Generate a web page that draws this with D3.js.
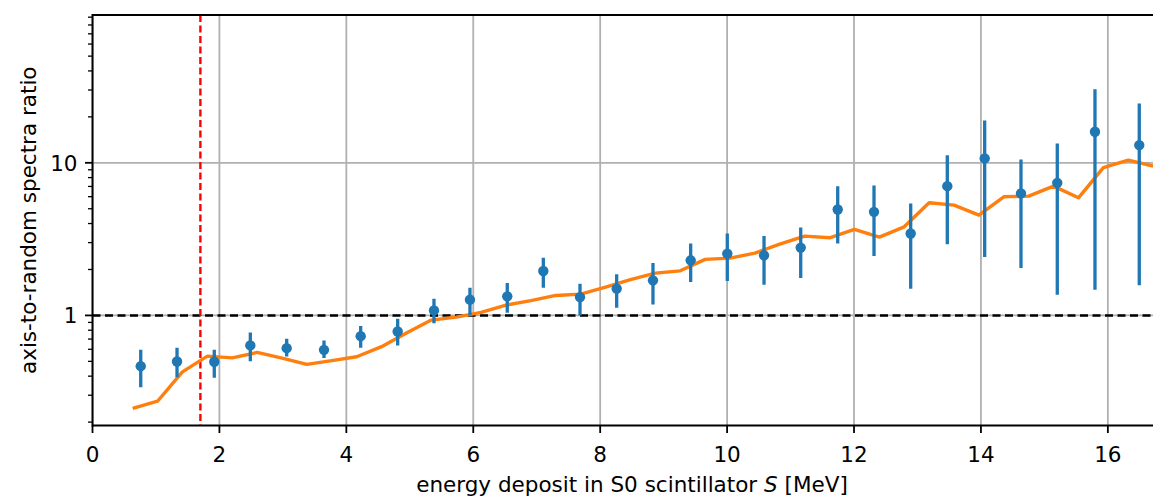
<!DOCTYPE html>
<html>
<head>
<meta charset="utf-8">
<script src="https://cdn.jsdelivr.net/npm/d3@7"></script>
<style>
  body { margin: 0; background: #fff; }
  text { font-family: "DejaVu Sans", sans-serif; fill: #000; }
</style>
</head>
<body>
<div id="chart"></div>
<script>
var w = 1153;
var h = 498;

// measured points with asymmetric error bars
var pointX = [0.760, 1.332, 1.919, 2.487, 3.060, 3.648, 4.226, 4.809, 5.381, 5.948,
              6.536, 7.104, 7.682, 8.260, 8.832, 9.426, 10.003, 10.582, 11.160, 11.743,
              12.315, 12.893, 13.470, 14.059, 14.631, 15.203, 15.797, 16.495];
var pointY = [0.465, 0.499, 0.497, 0.636, 0.610, 0.595, 0.731, 0.785, 1.078, 1.268,
              1.333, 1.954, 1.318, 1.497, 1.698, 2.297, 2.542, 2.477, 2.783, 4.94,
              4.77, 3.44, 7.03, 10.69, 6.30, 7.39, 15.98, 13.06];
var pointHi = [0.595, 0.614, 0.595, 0.773, 0.703, 0.685, 0.851, 0.951, 1.287, 1.52,
               1.63, 2.39, 1.615, 1.86, 2.205, 2.955, 3.44, 3.32, 3.77, 7.03,
               7.11, 5.41, 11.2, 18.9, 10.5, 13.4, 30.3, 24.5];
var pointLo = [0.338, 0.394, 0.390, 0.501, 0.538, 0.527, 0.614, 0.636, 0.890, 1.0,
               1.04, 1.52, 1.0, 1.124, 1.181, 1.654, 1.68, 1.59, 1.758, 2.96,
               2.45, 1.497, 2.93, 2.41, 2.045, 1.367, 1.475, 1.574];

// simulated ratio (orange line)
var lineX = [0.633, 1.025, 1.417, 1.810, 2.202, 2.594, 2.986, 3.378, 3.771, 4.163,
             4.555, 4.947, 5.339, 5.732, 6.124, 6.516, 6.908, 7.300, 7.693, 8.085,
             8.477, 8.869, 9.261, 9.654, 10.046, 10.438, 10.830, 11.222, 11.615, 12.007,
             12.399, 12.791, 13.183, 13.576, 13.968, 14.360, 14.752, 15.144, 15.537, 15.929,
             16.321, 16.713];
var lineY = [0.246, 0.274, 0.427, 0.541, 0.527, 0.572, 0.525, 0.478, 0.506, 0.536,
             0.624, 0.766, 0.932, 0.975, 1.046, 1.168, 1.250, 1.352, 1.379, 1.532,
             1.717, 1.893, 1.960, 2.328, 2.374, 2.560, 2.933, 3.309, 3.225, 3.661,
             3.260, 3.807, 5.470, 5.283, 4.543, 5.987, 6.050, 7.036, 5.897, 9.30,
             10.42, 9.51];

var xTicks = [0, 2, 4, 6, 8, 10, 12, 14, 16];
var yTicks = [1, 10];
var yMinor = [0.2, 0.3, 0.4, 0.5, 0.6, 0.7, 0.8, 0.9, 2, 3, 4, 5, 6, 7, 8, 9,
              20, 30, 40, 50, 60, 70, 80, 90];
var threshold = 1.7;

var plotLeft = 92.5, plotTop = 15, plotBottom = 425.5;
var fontSize = "21.5px";

var xScale = d3.scaleLinear()
    .domain([0, 17])
    .range([plotLeft, plotLeft + 17 * 63.46]);

var yScale = d3.scaleLog()
    .domain([0.19, 93])
    .range([plotBottom, plotTop]);

var svg = d3.select("#chart")
    .append("svg")
    .attr("width", w)
    .attr("height", h);

svg.append("clipPath").attr("id", "plotclip")
    .append("rect")
    .attr("x", plotLeft).attr("y", plotTop)
    .attr("width", w - plotLeft).attr("height", plotBottom - plotTop);

var g = svg.append("g").attr("clip-path", "url(#plotclip)");

// grid
g.selectAll(".vgrid")
    .data(xTicks)
    .enter()
    .append("line")
    .attr("x1", function(d) { return xScale(d); })
    .attr("x2", function(d) { return xScale(d); })
    .attr("y1", plotTop)
    .attr("y2", plotBottom)
    .attr("stroke", "#b0b0b0")
    .attr("stroke-width", 1.8);

g.selectAll(".hgrid")
    .data(yTicks)
    .enter()
    .append("line")
    .attr("x1", plotLeft)
    .attr("x2", w)
    .attr("y1", function(d) { return yScale(d); })
    .attr("y2", function(d) { return yScale(d); })
    .attr("stroke", "#b0b0b0")
    .attr("stroke-width", 1.8);

// ratio = 1 reference
g.append("line")
    .attr("x1", plotLeft)
    .attr("x2", w)
    .attr("y1", yScale(1))
    .attr("y2", yScale(1))
    .attr("stroke", "#000")
    .attr("stroke-width", 2.4)
    .attr("stroke-dasharray", "8,4.5");

// threshold
g.append("line")
    .attr("x1", xScale(threshold))
    .attr("x2", xScale(threshold))
    .attr("y1", plotTop)
    .attr("y2", plotBottom)
    .attr("stroke", "#ff0000")
    .attr("stroke-width", 2.4)
    .attr("stroke-dasharray", "7,3.5");

var line = d3.line()
    .x(function(d) { return xScale(d[0]); })
    .y(function(d) { return yScale(d[1]); });

g.append("path")
    .datum(d3.zip(lineX, lineY))
    .attr("d", line)
    .attr("fill", "none")
    .attr("stroke", "#ff7f0e")
    .attr("stroke-width", 3.4)
    .attr("stroke-linejoin", "round");

var pts = pointX.map(function(x, i) {
    return { x: x, y: pointY[i], hi: pointHi[i], lo: pointLo[i] };
});

g.selectAll(".err")
    .data(pts)
    .enter()
    .append("line")
    .attr("x1", function(d) { return xScale(d.x); })
    .attr("x2", function(d) { return xScale(d.x); })
    .attr("y1", function(d) { return yScale(d.hi); })
    .attr("y2", function(d) { return yScale(d.lo); })
    .attr("stroke", "#1f77b4")
    .attr("stroke-width", 3.3);

g.selectAll(".dot")
    .data(pts)
    .enter()
    .append("circle")
    .attr("cx", function(d) { return xScale(d.x); })
    .attr("cy", function(d) { return yScale(d.y); })
    .attr("r", 5.2)
    .attr("fill", "#1f77b4");

// spines
svg.append("line")
    .attr("x1", plotLeft).attr("x2", w)
    .attr("y1", plotTop).attr("y2", plotTop)
    .attr("stroke", "#000").attr("stroke-width", 2);
svg.append("line")
    .attr("x1", plotLeft).attr("x2", w)
    .attr("y1", plotBottom).attr("y2", plotBottom)
    .attr("stroke", "#000").attr("stroke-width", 2);
svg.append("line")
    .attr("x1", plotLeft).attr("x2", plotLeft)
    .attr("y1", plotTop - 1).attr("y2", plotBottom + 1)
    .attr("stroke", "#000").attr("stroke-width", 2);

// x ticks
svg.selectAll(".xtick")
    .data(xTicks)
    .enter()
    .append("line")
    .attr("x1", function(d) { return xScale(d); })
    .attr("x2", function(d) { return xScale(d); })
    .attr("y1", plotBottom)
    .attr("y2", plotBottom + 7.5)
    .attr("stroke", "#000")
    .attr("stroke-width", 1.8);

svg.selectAll(".xlab")
    .data(xTicks)
    .enter()
    .append("text")
    .attr("x", function(d) { return xScale(d); })
    .attr("y", 462)
    .attr("text-anchor", "middle")
    .style("font-size", fontSize)
    .text(function(d) { return d; });

// y ticks
svg.selectAll(".ytick")
    .data(yTicks)
    .enter()
    .append("line")
    .attr("x1", plotLeft - 7.5)
    .attr("x2", plotLeft)
    .attr("y1", function(d) { return yScale(d); })
    .attr("y2", function(d) { return yScale(d); })
    .attr("stroke", "#000")
    .attr("stroke-width", 1.8);

svg.selectAll(".yminor")
    .data(yMinor)
    .enter()
    .append("line")
    .attr("x1", plotLeft - 4.5)
    .attr("x2", plotLeft)
    .attr("y1", function(d) { return yScale(d); })
    .attr("y2", function(d) { return yScale(d); })
    .attr("stroke", "#000")
    .attr("stroke-width", 1.3);

svg.selectAll(".ylab")
    .data(yTicks)
    .enter()
    .append("text")
    .attr("x", plotLeft - 15)
    .attr("y", function(d) { return yScale(d) + 7.8; })
    .attr("text-anchor", "end")
    .style("font-size", fontSize)
    .text(function(d) { return d; });

// axis titles
var xt = svg.append("text")
    .attr("x", 632)
    .attr("y", 492)
    .attr("text-anchor", "middle")
    .style("font-size", fontSize);
xt.append("tspan").text("energy deposit in S0 scintillator ");
xt.append("tspan").style("font-style", "italic").text("S");
xt.append("tspan").text(" [MeV]");

svg.append("text")
    .attr("transform", "translate(36," + ((plotTop + plotBottom) / 2) + ") rotate(-90)")
    .attr("text-anchor", "middle")
    .style("font-size", fontSize)
    .text("axis-to-random spectra ratio");
</script>
</body>
</html>
